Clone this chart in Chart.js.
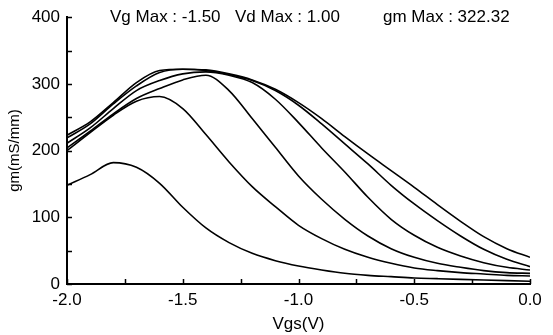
<!DOCTYPE html>
<html>
<head>
<meta charset="utf-8">
<script src="https://cdn.jsdelivr.net/npm/chart.js@4"></script>
<style>
  html, body { margin: 0; padding: 0; background: #fff; }
  #wrap { width: 553px; height: 335px; }
</style>
</head>
<body>
<div id="wrap"><canvas id="chart"></canvas></div>
<script>
// Gate voltage sweep (V)
const vgs = [-2.0, -1.9, -1.8, -1.7, -1.6, -1.5, -1.4, -1.3, -1.2, -1.1, -1.0,
             -0.9, -0.8, -0.7, -0.6, -0.5, -0.4, -0.3, -0.2, -0.1, 0.0];

// gm (mS/mm), one curve per drain bias, lowest to highest
const gm1 = [148, 164, 182, 175, 151, 115, 84, 62, 46, 35, 27, 21, 16, 13, 11, 9, 8, 7, 6, 5, 4];
const gm2 = [200, 227, 253, 274, 281, 263, 224, 183, 146, 116, 88, 68, 52, 40, 31, 24, 20, 17, 15, 13, 12];
const gm3 = [204, 229, 255, 278, 293, 306, 313, 290, 248, 205, 162, 127, 97, 72, 53, 40, 31, 25, 20, 17, 16];
const gm4 = [211, 234, 263, 290, 305, 315, 318, 313, 302, 277, 242, 204, 168, 130, 97, 73, 55, 42, 32, 25, 21];
const gm5 = [219, 240, 270, 297, 317, 322, 320, 314, 305, 290, 268, 240, 210, 180, 148, 120, 95, 72, 52, 37, 26];
const gm6 = [223, 243, 272, 302, 320, 322, 321, 315, 306, 292, 272, 248, 221, 195, 170, 145, 119, 94, 71, 53, 40];

const yTicks = [0, 100, 200, 300, 400];
const xTicks = [-2.0, -1.5, -1.0, -0.5, 0.0];
const headerParts = ['Vg Max : -1.50', 'Vd Max : 1.00', 'gm Max : 322.32'];

const FONT = '"Liberation Sans", Arial, sans-serif';

function toPoints(ys) {
    return ys.map((y, i) => ({ x: vgs[i], y: y }));
}

const series = [gm1, gm2, gm3, gm4, gm5, gm6].map(ys => ({
    data: toPoints(ys),
    borderColor: '#000',
    borderWidth: 1.6,
    pointRadius: 0,
    fill: false,
    cubicInterpolationMode: 'monotone'
}));

// small inward ticks and the header line
const extras = {
    id: 'extras',
    afterDraw(chart) {
        const ctx = chart.ctx;
        const xs = chart.scales.x, ys = chart.scales.y;
        const area = chart.chartArea;
        ctx.save();
        ctx.strokeStyle = '#000';
        ctx.lineWidth = 1.5;
        ctx.beginPath();
        for (let v = 0; v <= 400; v += 50) {
            const py = Math.round(ys.getPixelForValue(v)) + 0.5;
            ctx.moveTo(area.left, py);
            ctx.lineTo(area.left + 5, py);
        }
        for (let v = -2; v <= 0.001; v += 0.25) {
            const px = Math.round(xs.getPixelForValue(v)) + 0.5;
            ctx.moveTo(px, area.bottom);
            ctx.lineTo(px, area.bottom - 5);
        }
        ctx.stroke();

        ctx.fillStyle = '#000';
        ctx.font = '17px ' + FONT;
        ctx.textBaseline = 'middle';
        ctx.textAlign = 'left';
        const starts = [110, 235, 383];
        headerParts.forEach((t, i) => ctx.fillText(t, starts[i], 17));
        ctx.restore();
    }
};

new Chart(document.getElementById('chart'), {
    type: 'line',
    data: { datasets: series },
    options: {
        responsive: true,
        maintainAspectRatio: false,
        animation: false,
        layout: { padding: { top: 17, right: 23, left: 0, bottom: 0 } },
        plugins: { legend: { display: false }, tooltip: { enabled: false } },
        scales: {
            x: {
                type: 'linear',
                min: -2, max: 0,
                afterBuildTicks: s => { s.ticks = xTicks.map(v => ({ value: v })); },
                afterFit: s => { s.height = 51; },
                grid: { display: false, drawTicks: false },
                border: { display: true, color: '#000', width: 2 },
                ticks: {
                    color: '#000', padding: 6,
                    font: { family: FONT, size: 17 },
                    callback: v => v.toFixed(1)
                },
                title: {
                    display: true, text: 'Vgs(V)', color: '#000',
                    font: { family: FONT, size: 17 },
                    padding: { top: 0, bottom: 0 }
                }
            },
            y: {
                min: 0, max: 400,
                afterBuildTicks: s => { s.ticks = yTicks.map(v => ({ value: v })); },
                afterFit: s => { s.width = 67; },
                grid: { display: false, drawTicks: false },
                border: { display: true, color: '#000', width: 2 },
                ticks: {
                    color: '#000', padding: 7,
                    font: { family: FONT, size: 17 }
                },
                title: {
                    display: true, text: 'gm(mS/mm)', color: '#000',
                    font: { family: FONT, size: 15 },
                    padding: { top: 6, bottom: 0 }
                }
            }
        }
    },
    plugins: [extras]
});
</script>
</body>
</html>
